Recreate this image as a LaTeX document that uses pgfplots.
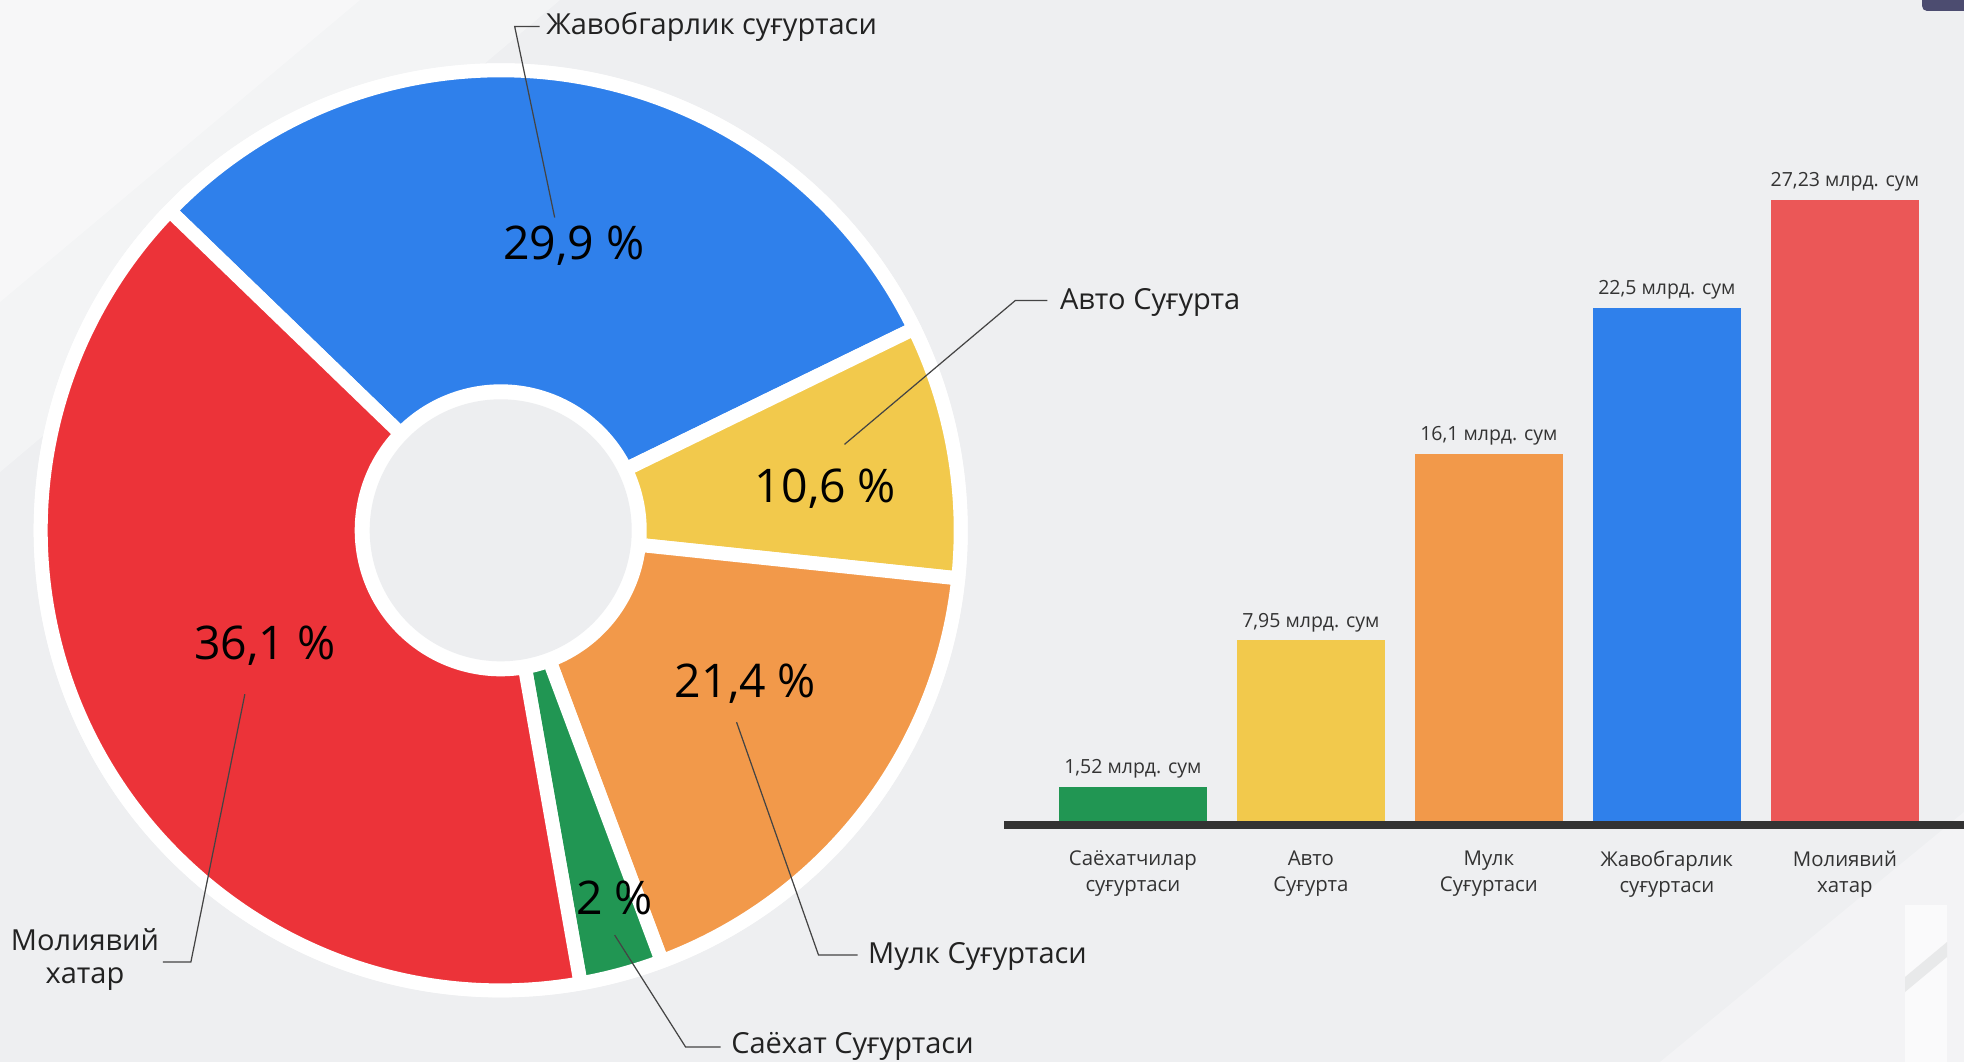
\documentclass[border=0pt]{standalone}
\usepackage{fontspec}
\setmainfont{Open Sans}
\usepackage{pgfplots}
\pgfplotsset{compat=1.18}

\definecolor{bg}{HTML}{EEEFF1}
\definecolor{hole}{HTML}{EDEEF0}
\definecolor{cblue}{HTML}{2F80EB}
\definecolor{cred}{HTML}{EC3339}
\definecolor{cbarred}{HTML}{EB5757}
\definecolor{cyellow}{HTML}{F2C94C}
\definecolor{corange}{HTML}{F2994A}
\definecolor{cgreen}{HTML}{219653}
\definecolor{base}{HTML}{333333}
\definecolor{txt}{HTML}{222222}
\definecolor{lead}{HTML}{444444}

% one donut sector: start angle, end angle, colour (ring 139..460 px, white edge 14 px)
\newcommand{\sector}[3]{%
  \fill[#3, draw=white, line width=0.14cm, line join=round]
    ([shift={(#1:1.39cm)}]C) -- ([shift={(#1:4.60cm)}]C)
    arc[start angle=#1, end angle=#2, radius=4.60cm]
    -- ([shift={(#2:1.39cm)}]C)
    arc[start angle=#2, end angle=#1, radius=1.39cm] -- cycle;}

\newcommand{\pctfont}{\fontsize{13.2}{15}\selectfont}
\newcommand{\lblfont}{\fontsize{8.25}{9.4}\selectfont}

\begin{document}
\begin{tikzpicture}
  % background
  \fill[bg] (0,0) rectangle (19.64,10.62);
  \path[use as bounding box] (0,0) rectangle (19.64,10.62);
  \fill[white, opacity=0.35] (0,10.62) -- (5.6,10.62) -- (0,5.9) -- cycle;
  \fill[white, opacity=0.35] (0,10.62) -- (3.6,10.62) -- (0,7.6) -- cycle;
  \fill[white, opacity=0.3] (16.6,0) -- (19.64,2.5) -- (19.64,0) -- cycle;
  \fill[white, opacity=0.6] (19.05,0) rectangle (19.47,1.57);
  \fill[bg!80!gray, opacity=0.5] (19.05,0.85) -- (19.47,1.2) -- (19.47,1.05) -- (19.05,0.7) -- cycle;
  \fill[black!80!blue!70, rounded corners=0.05cm] (19.22,10.51) rectangle (19.70,10.70);

  % donut, in an axis measured in pixels of the reference
  \begin{axis}[
    at={(0,0)}, anchor=south west,
    x=0.01cm, y=0.01cm,
    xmin=0, xmax=1964, ymin=0, ymax=1062,
    hide axis, clip=false,
  ]
    \coordinate (C) at (axis cs:501,532);
    \fill[white] (C) circle[radius=4.67cm];
    % boundaries as drawn: 136, 26, -6, -69.5, -80 degrees
    \sector{136}{26}{cblue}    % 29,9 %
    \sector{26}{-6}{cyellow}   % 10,6 %
    \sector{-6}{-69.5}{corange}% 21,4 %
    \sector{-69.5}{-80}{cgreen}% 2 %
    \sector{-80}{-224}{cred}   % 36,1 %
    \fill[hole] (C) circle[radius=1.31cm];

    \node[font=\pctfont, text=black] at (axis cs:574,817) {29,9 \%};
    \node[font=\pctfont, text=black] at (axis cs:826,574) {10,6 \%};
    \node[font=\pctfont, text=black] at (axis cs:746,379) {21,4 \%};
    \node[font=\pctfont, text=black] at (axis cs:265,417) {36,1 \%};
    \node[font=\pctfont, text=black] at (axis cs:615,164) {2 \%};

    \draw[lead, line width=0.35pt] (axis cs:555,845) -- (axis cs:515,1036) -- (axis cs:540,1036);
    \node[font=\lblfont, text=txt, anchor=west, inner sep=0pt] at (axis cs:546,1036) {Жавобгарлик суғуртаси};
    \draw[lead, line width=0.35pt] (axis cs:845,618) -- (axis cs:1016,762) -- (axis cs:1048,762);
    \node[font=\lblfont, text=txt, anchor=west, inner sep=0pt] at (axis cs:1060,760) {Авто Суғурта};
    \draw[lead, line width=0.35pt] (axis cs:737,340) -- (axis cs:819,107) -- (axis cs:858,107);
    \node[font=\lblfont, text=txt, anchor=west, inner sep=0pt] at (axis cs:868,106) {Мулк Суғуртаси};
    \draw[lead, line width=0.35pt] (axis cs:615,127) -- (axis cs:686,15) -- (axis cs:721,15);
    \node[font=\lblfont, text=txt, anchor=west, inner sep=0pt] at (axis cs:731,16) {Саёхат Суғуртаси};
    \draw[lead, line width=0.35pt] (axis cs:245,368) -- (axis cs:191,100) -- (axis cs:163,100);
    \node[font=\lblfont, text=txt, align=center, inner sep=0pt] at (axis cs:85,103) {Молиявий\\хатар};
  \end{axis}

  % bars
  \begin{axis}[
    at={(10.04cm,2.40cm)}, anchor=south west,
    x=1.78cm, y=0.2285cm,
    xmin=-0.724, xmax=4.67, ymin=0, ymax=28,
    axis line style={draw=none}, tick style={draw=none},
    ytick=\empty, xtick={0,1,2,3,4},
    xticklabels={Саёхатчилар\\суғуртаси, Авто\\Суғурта, Мулк\\Суғуртаси, Жавобгарлик\\суғуртаси, Молиявий\\хатар},
    xticklabel style={align=center, font=\fontsize{5.8}{7.4}\selectfont, text=base, anchor=center, yshift=-0.37cm},
    ybar, bar width=1.48cm, bar shift=0pt,
    every node near coord/.append style={font=\fontsize{5.55}{6.5}\selectfont, text=base, anchor=center, yshift=0.18cm},
    clip=false,
  ]
    \addplot[draw=none, fill=cgreen, nodes near coords={1,52 млрд. сум}] coordinates {(0,1.52)};
    \addplot[draw=none, fill=cyellow, nodes near coords={7,95 млрд. сум}] coordinates {(1,7.95)};
    \addplot[draw=none, fill=corange, nodes near coords={16,1 млрд. сум}] coordinates {(2,16.1)};
    \addplot[draw=none, fill=cblue, nodes near coords={22,5 млрд. сум}] coordinates {(3,22.5)};
    \addplot[draw=none, fill=cbarred, nodes near coords={27,23 млрд. сум}] coordinates {(4,27.23)};
    \draw[base, line width=0.072cm] ([yshift=-0.03cm]axis cs:-0.724,0) -- ([yshift=-0.03cm]axis cs:4.67,0);
  \end{axis}
\end{tikzpicture}
\end{document}
